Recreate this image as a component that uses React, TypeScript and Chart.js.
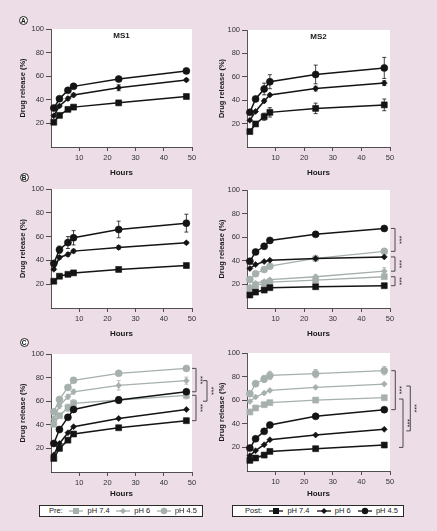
import React, { useEffect, useRef } from "react";
import { Chart, registerables } from "chart.js";

Chart.register(...registerables);

// ---------- DATA ----------
const hours = [1, 3, 6, 8, 24, 48];
const xTickValues = [10, 20, 30, 40, 50];
const yTickValues = [20, 40, 60, 80, 100];
const panelTitles = ["MS1", "MS2"];
const rowLetters = ["A", "B", "C"];
const phLabels = ["pH 7.4", "pH 6", "pH 4.5"];
const groupLabels = ["Pre:", "Post:"];
const xAxisTitle = "Hours";
const yAxisTitle = "Drug release (%)";
const sigLabel = "***";

// Row A, MS1
const aMs1Ph74 = [21, 26.8, 31.9, 33.8, 37.4, 42.8];
const aMs1Ph74Err = [0.8, 0.8, 0.8, 1, 1, 1];
const aMs1Ph6 = [26.5, 34.7, 41, 44, 50.2, 56.8];
const aMs1Ph6Err = [1, 1, 1.5, 1.5, 2.5, 1.2];
const aMs1Ph45 = [33, 40.9, 48, 51.4, 57.6, 64.5];
const aMs1Ph45Err = [1, 1, 1, 1, 1, 1];
// Row A, MS2
const aMs2Ph74 = [13.2, 19.7, 25.9, 29.6, 33, 36];
const aMs2Ph74Err = [1, 1.5, 3, 4, 4.5, 5];
const aMs2Ph6 = [22.8, 30.4, 39.4, 44.5, 49.9, 54.6];
const aMs2Ph6Err = [1, 1, 1.5, 1, 2, 2];
const aMs2Ph45 = [29.6, 41.1, 49.6, 55.8, 62, 67.6];
const aMs2Ph45Err = [1.5, 2, 5, 6, 8, 9];

// Row B, MS1
const bMs1Ph74 = [22.5, 26.7, 28.3, 29.5, 32.4, 35.7];
const bMs1Ph74Err = [0.8, 0.8, 0.8, 0.8, 1, 1];
const bMs1Ph6 = [32.5, 42.5, 45, 47.8, 50.9, 54.8];
const bMs1Ph6Err = [1, 1.5, 1.5, 1.5, 1.5, 1];
const bMs1Ph45 = [37.5, 49, 55, 59, 66, 71.3];
const bMs1Ph45Err = [2, 3, 5, 6, 7, 7.5];
// Row B, MS2 (post = black, pre = grey)
const bMs2PostPh74 = [11, 13.5, 15.2, 17.2, 18, 18.9];
const bMs2PostPh6 = [33.5, 36.8, 39.4, 40.5, 41.9, 43.3];
const bMs2PostPh45 = [39.6, 47.5, 52.3, 57.3, 62.4, 67.4];
const bMs2PostPh45Err = [1.5, 2, 2, 1.5, 1.5, 1.5];
const bMs2PrePh74 = [16.4, 19.2, 20.8, 22, 23.6, 26.5];
const bMs2PrePh6 = [18, 21, 22.5, 24, 26.5, 31.2];
const bMs2PrePh6Err = [1, 1, 1, 1, 1.5, 3];
const bMs2PrePh45 = [24.2, 29, 32.6, 35.4, 42, 48];
const bMs2Brackets = [[67.4, 48], [43.3, 31.2], [26.5, 18.9]];

// Row C, MS1
const cMs1PrePh74 = [40.4, 47.7, 54.5, 58.2, 61, 65];
const cMs1PrePh74Err = [1, 1.5, 3, 3, 2, 3];
const cMs1PrePh6 = [45, 56, 63.8, 68, 73.4, 77.4];
const cMs1PrePh6Err = [2, 2, 2, 2, 4, 3];
const cMs1PrePh45 = [51, 61.5, 71.7, 77.7, 83.6, 87.8];
const cMs1PostPh74 = [11.5, 20, 27, 32.2, 37.5, 43.5];
const cMs1PostPh6 = [14.5, 24.2, 33.3, 38.4, 45.4, 53];
const cMs1PostPh45 = [24.2, 36, 46.3, 53, 61, 68];
const cMs1PostPh45Err = [1, 1, 1.5, 2, 3, 2];
const cMs1Brackets = [[87.8, 68], [77.4, 60], [65, 43.5]];
// Row C, MS2
const cMs2PrePh74 = [50, 53.4, 56.2, 57.9, 60.1, 62.1];
const cMs2PrePh6 = [59, 62.7, 66, 68.3, 70.9, 73.7];
const cMs2PrePh45 = [65.5, 74, 78, 81, 82.5, 85];
const cMs2PrePh45Err = [1.5, 2.5, 3, 3.5, 3.5, 3.5];
const cMs2PostPh74 = [9, 11, 13.5, 16.6, 18.9, 22];
const cMs2PostPh6 = [13, 17.2, 22.3, 26.5, 30.5, 35.3];
const cMs2PostPh45 = [19.4, 27.3, 33.6, 39, 46.3, 52];
const cMs2Brackets = [[85, 52], [72, 34], [61, 20]];

// ---------- STYLE ----------
const FONT = "'Liberation Sans', Arial, Helvetica, sans-serif";
const BG = "#ecdde6";
const BLACK = "#141414";
const GREY = "#a6b0ac";
const AXIS = "#2a2a2a";
const MARKERS = ["rect", "rectRot", "circle"];
const RADII = [4.2, 3, 3.5];

type Group = "pre" | "post";

function series(vals: number[], errs: number[] | null, group: Group, ph: number) {
  const color = group === "post" ? BLACK : GREY;
  return {
    label: `${group} ${phLabels[ph]}`,
    data: hours.map((h, i) => ({ x: h, y: vals[i] })),
    errors: errs,
    borderColor: color,
    backgroundColor: color,
    borderWidth: group === "post" ? 1.5 : 1.3,
    pointStyle: MARKERS[ph],
    pointRadius: RADII[ph],
    pointBorderWidth: 0.6,
    pointBackgroundColor: color,
    pointBorderColor: color,
    tension: 0,
    fill: false,
    clip: false,
  };
}

// layout per column / row (positions only)
const cols = [
  { cLeft: 0, cWidth: 216, plotLeft: 51, plotRight: 192, yTitleX: 23.3 },
  { cLeft: 214, cWidth: 223, plotLeft: 247, plotRight: 390, yTitleX: 221.5 },
];
const rows = [
  { cTop: 0, cHeight: 182, plotTop: [29, 30], plotBottom: [147, 147], xTitleY: 172.3 },
  { cTop: 176, cHeight: 164, plotTop: [189, 190], plotBottom: [308, 308], xTitleY: 334 },
  { cTop: 340, cHeight: 162, plotTop: [354, 353], plotBottom: [472, 471], xTitleY: 494 },
];
const bracketOffsets: Record<string, number[]> = {
  "1-1": [1, 1, 1],
  "2-0": [0, 11, 0],
  "2-1": [1.3, 16.3, 9],
};

const panels = [
  {
    row: 0, col: 0, title: panelTitles[0], brackets: [] as number[][],
    datasets: [
      series(aMs1Ph45, aMs1Ph45Err, "post", 2),
      series(aMs1Ph6, aMs1Ph6Err, "post", 1),
      series(aMs1Ph74, aMs1Ph74Err, "post", 0),
    ],
  },
  {
    row: 0, col: 1, title: panelTitles[1], brackets: [] as number[][],
    datasets: [
      series(aMs2Ph45, aMs2Ph45Err, "post", 2),
      series(aMs2Ph6, aMs2Ph6Err, "post", 1),
      series(aMs2Ph74, aMs2Ph74Err, "post", 0),
    ],
  },
  {
    row: 1, col: 0, title: "", brackets: [] as number[][],
    datasets: [
      series(bMs1Ph45, bMs1Ph45Err, "post", 2),
      series(bMs1Ph6, bMs1Ph6Err, "post", 1),
      series(bMs1Ph74, bMs1Ph74Err, "post", 0),
    ],
  },
  {
    row: 1, col: 1, title: "", brackets: bMs2Brackets,
    datasets: [
      series(bMs2PostPh45, bMs2PostPh45Err, "post", 2),
      series(bMs2PostPh6, null, "post", 1),
      series(bMs2PostPh74, null, "post", 0),
      series(bMs2PrePh45, null, "pre", 2),
      series(bMs2PrePh6, bMs2PrePh6Err, "pre", 1),
      series(bMs2PrePh74, null, "pre", 0),
    ],
  },
  {
    row: 2, col: 0, title: "", brackets: cMs1Brackets,
    datasets: [
      series(cMs1PostPh45, cMs1PostPh45Err, "post", 2),
      series(cMs1PostPh6, null, "post", 1),
      series(cMs1PostPh74, null, "post", 0),
      series(cMs1PrePh45, null, "pre", 2),
      series(cMs1PrePh6, cMs1PrePh6Err, "pre", 1),
      series(cMs1PrePh74, cMs1PrePh74Err, "pre", 0),
    ],
  },
  {
    row: 2, col: 1, title: "", brackets: cMs2Brackets,
    datasets: [
      series(cMs2PostPh45, null, "post", 2),
      series(cMs2PostPh6, null, "post", 1),
      series(cMs2PostPh74, null, "post", 0),
      series(cMs2PrePh45, cMs2PrePh45Err, "pre", 2),
      series(cMs2PrePh6, null, "pre", 1),
      series(cMs2PrePh74, null, "pre", 0),
    ],
  },
];

// ---------- PLUGINS ----------
const plotBgPlugin = {
  id: "plotBg",
  beforeDraw(chart: any) {
    const { ctx, chartArea: a } = chart;
    ctx.save();
    ctx.fillStyle = "#ffffff";
    ctx.fillRect(a.left, a.top, a.right - a.left, a.bottom - a.top);
    ctx.restore();
  },
};

const errPlugin = {
  id: "errBars",
  beforeDatasetsDraw(chart: any) {
    const ys = chart.scales.y;
    const ctx = chart.ctx;
    chart.data.datasets.forEach((ds: any, i: number) => {
      const err = ds.errors;
      if (!err) return;
      const meta = chart.getDatasetMeta(i);
      ctx.save();
      ctx.strokeStyle = ds.borderColor;
      ctx.lineWidth = 0.8;
      meta.data.forEach((pt: any, j: number) => {
        const e = err[j];
        if (!e) return;
        const v = ds.data[j].y;
        const y1 = ys.getPixelForValue(v + e);
        const y2 = ys.getPixelForValue(v - e);
        ctx.beginPath();
        ctx.moveTo(pt.x, y1);
        ctx.lineTo(pt.x, y2);
        ctx.moveTo(pt.x - 2, y1);
        ctx.lineTo(pt.x + 2, y1);
        ctx.moveTo(pt.x - 2, y2);
        ctx.lineTo(pt.x + 2, y2);
        ctx.stroke();
      });
      ctx.restore();
    });
  },
};

function makeBracketPlugin(items: number[][], offsets: number[]) {
  return {
    id: "sigBrackets",
    afterDraw(chart: any) {
      const ys = chart.scales.y;
      const { ctx, chartArea } = chart;
      items.forEach((b, k) => {
        const x0 = chartArea.right + (offsets[k] || 0);
        const x1 = x0 + 4;
        const yt = ys.getPixelForValue(b[0]);
        const yb = ys.getPixelForValue(b[1]);
        ctx.save();
        ctx.strokeStyle = "#3a3a3a";
        ctx.lineWidth = 0.9;
        ctx.beginPath();
        ctx.moveTo(x0, yt);
        ctx.lineTo(x1, yt);
        ctx.lineTo(x1, yb);
        ctx.lineTo(x0, yb);
        ctx.stroke();
        ctx.translate(x1 + 3.6, (yt + yb) / 2);
        ctx.rotate(Math.PI / 2);
        ctx.fillStyle = "#222";
        ctx.font = `7px ${FONT}`;
        ctx.textAlign = "center";
        ctx.textBaseline = "middle";
        ctx.fillText(sigLabel, 0, 0);
        ctx.restore();
      });
    },
  };
}

function makeTitlePlugin(text: string) {
  return {
    id: "panelTitle",
    afterDraw(chart: any) {
      if (!text) return;
      const { ctx, chartArea: a } = chart;
      ctx.save();
      ctx.fillStyle = "#1a1a1a";
      ctx.font = `bold 8px ${FONT}`;
      ctx.textAlign = "center";
      ctx.textBaseline = "top";
      ctx.fillText(text, (a.left + a.right) / 2, a.top + 3);
      ctx.restore();
    },
  };
}

// ---------- COMPONENTS ----------
function Panel({ p }: { p: (typeof panels)[number] }) {
  const ref = useRef<HTMLCanvasElement | null>(null);
  const col = cols[p.col];
  const row = rows[p.row];
  const plotTop = row.plotTop[p.col];
  const plotBottom = row.plotBottom[p.col];

  useEffect(() => {
    if (!ref.current) return;
    const tickFont = { family: FONT, size: 7.5 };
    const chart = new Chart(ref.current, {
      type: "line",
      data: { datasets: p.datasets as any },
      options: {
        responsive: false,
        animation: false,
        devicePixelRatio: 1,
        events: [],
        layout: {
          padding: {
            top: plotTop - row.cTop,
            right: col.cLeft + col.cWidth - col.plotRight,
            left: 0,
            bottom: 0,
          },
        },
        plugins: { legend: { display: false }, tooltip: { enabled: false } },
        scales: {
          x: {
            type: "linear",
            min: 0,
            max: 50,
            afterBuildTicks: (s: any) => {
              s.ticks = xTickValues.map((v) => ({ value: v }));
            },
            afterFit: (s: any) => {
              s.height = row.cTop + row.cHeight - plotBottom;
            },
            ticks: { font: tickFont, color: "#333", padding: 2, maxRotation: 0, autoSkip: false },
            grid: { display: true, drawOnChartArea: false, drawTicks: true, tickLength: 4, color: AXIS, lineWidth: 0.8 },
            border: { display: true, color: AXIS, width: 0.8 },
            title: {
              display: true,
              text: xAxisTitle,
              color: "#1a1a1a",
              font: { family: FONT, size: 8, weight: "bold" },
              padding: { top: 0, bottom: row.cTop + row.cHeight - row.xTitleY - 4.8 },
            },
          },
          y: {
            type: "linear",
            min: 0,
            max: 100,
            afterBuildTicks: (s: any) => {
              s.ticks = yTickValues.map((v) => ({ value: v }));
            },
            afterFit: (s: any) => {
              s.width = col.plotLeft - col.cLeft;
            },
            ticks: { font: tickFont, color: "#333", padding: 2, autoSkip: false },
            grid: { display: true, drawOnChartArea: false, drawTicks: true, tickLength: 5, color: AXIS, lineWidth: 0.8 },
            border: { display: true, color: AXIS, width: 0.8 },
            title: {
              display: true,
              text: yAxisTitle,
              color: "#1a1a1a",
              font: { family: FONT, size: 7.5, weight: "bold" },
              padding: { top: col.yTitleX - col.cLeft - 4.5, bottom: 0 },
            },
          },
        },
      } as any,
      plugins: [
        plotBgPlugin,
        errPlugin,
        makeBracketPlugin(p.brackets, bracketOffsets[`${p.row}-${p.col}`] || []),
        makeTitlePlugin(p.title),
      ],
    });
    return () => chart.destroy();
  }, []);

  return (
    <canvas
      ref={ref}
      width={col.cWidth}
      height={row.cHeight}
      style={{ position: "absolute", left: col.cLeft, top: row.cTop, width: col.cWidth, height: row.cHeight }}
    />
  );
}

function Marker({ color, ph }: { color: string; ph: number }) {
  return (
    <svg width={14} height={8} style={{ display: "block" }}>
      <line x1={0} y1={4} x2={14} y2={4} stroke={color} strokeWidth={1.3} />
      {ph === 0 && <rect x={4} y={1} width={6} height={6} fill={color} />}
      {ph === 1 && <polygon points="7,1 10,4 7,7 4,4" fill={color} />}
      {ph === 2 && <circle cx={7} cy={4} r={3.2} fill={color} />}
    </svg>
  );
}

function LegendBox({ group, left, width, padLeft }: { group: number; left: number; width: number; padLeft: number }) {
  const color = group === 0 ? GREY : BLACK;
  return (
    <div
      style={{
        position: "absolute",
        left,
        top: 505,
        width,
        height: 12,
        boxSizing: "border-box",
        border: "1px solid #2a2a2a",
        background: "#fff",
        display: "flex",
        alignItems: "center",
        justifyContent: "space-between",
        paddingLeft: padLeft,
        paddingRight: 5,
        fontFamily: FONT,
        fontSize: 7.5,
        color: "#222",
        lineHeight: "10px",
      }}
    >
      <span>{groupLabels[group]}</span>
      {phLabels.map((l, i) => (
        <span key={l} style={{ display: "flex", alignItems: "center", gap: 4 }}>
          <Marker color={color} ph={i} />
          <span>{l}</span>
        </span>
      ))}
    </div>
  );
}

function Letter({ text, cx, cy }: { text: string; cx: number; cy: number }) {
  return (
    <div
      style={{
        position: "absolute",
        left: cx - 4.5,
        top: cy - 4.5,
        width: 9,
        height: 9,
        boxSizing: "border-box",
        border: "1px solid #222",
        borderRadius: "50%",
        background: "#fff",
        fontFamily: FONT,
        fontWeight: "bold",
        fontSize: 6.5,
        lineHeight: "7px",
        textAlign: "center",
        color: "#111",
      }}
    >
      {text}
    </div>
  );
}

const letterPos = [
  [23.3, 20.7],
  [24, 177.3],
  [24, 342],
];

export default function App() {
  return (
    <div
      style={{
        position: "fixed",
        left: 0,
        top: 0,
        width: 437,
        height: 531,
        background: BG,
        overflow: "hidden",
      }}
    >
      {panels.map((p, i) => (
        <Panel key={i} p={p} />
      ))}
      {rowLetters.map((l, i) => (
        <Letter key={l} text={l} cx={letterPos[i][0]} cy={letterPos[i][1]} />
      ))}
      <LegendBox group={0} left={39} width={164} padLeft={9} />
      <LegendBox group={1} left={232} width={172} padLeft={12} />
    </div>
  );
}
